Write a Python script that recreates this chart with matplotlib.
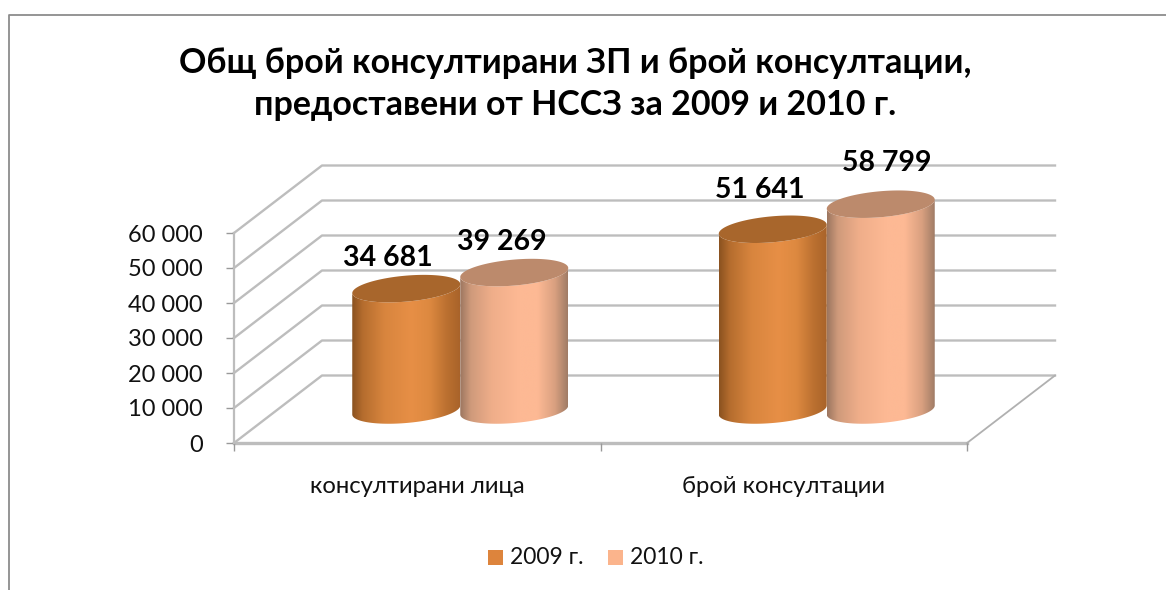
import numpy as np
import matplotlib
matplotlib.use("Agg")
import matplotlib.pyplot as plt
from matplotlib.colors import LinearSegmentedColormap
from matplotlib.lines import Line2D
from matplotlib.patches import Polygon, Rectangle

plt.rcParams['font.family'] = ['Lato', 'Open Sans', 'DejaVu Sans']

# данни
title = "Общ брой консултирани ЗП и брой консултации,\nпредоставени от НССЗ за 2009 и 2010 г."
categories = ["консултирани лица", "брой консултации"]
series_names = ["2009 г.", "2010 г."]
values_2009 = [34681, 51641]
values_2010 = [39269, 58799]
y_ticks = [0, 10000, 20000, 30000, 40000, 50000, 60000]

W, H = 1166, 590
PX_X = 2 / 733      # category units per pixel
PX_Y = 60000 / 210  # value units per pixel
DEPTH_X = 88 * PX_X
DEPTH_Y = 67.5 * PX_Y
GRID = '#bdbdbd'


def fmt(v):
    return f"{v:,}".replace(",", " ")


fig = plt.figure(figsize=(W / 100, H / 100), dpi=100, facecolor='white')
ax = fig.add_axes([234 / W, (H - 443) / H, 733 / W, 210 / H])
ax.patch.set_visible(False)
ax.set_xlim(0, 2)
ax.set_ylim(0, 60000)

# оси
for name in ['top', 'right', 'bottom']:
    ax.spines[name].set_visible(False)
ax.spines['left'].set_color(GRID)
ax.spines['left'].set_linewidth(1.6)
ax.set_yticks(y_ticks, [fmt(t) for t in y_ticks], fontsize=17, color='#111111')
ax.tick_params(axis='y', length=5.5, width=1, color='#999999', pad=17)
ax.set_xticks([0, 1, 2], ['', '', ''])
ax.tick_params(axis='x', length=5.5, width=1, color='#999999')
ax.set_xticks([0.5, 1.5], categories, minor=True, fontsize=17.2, color='#111111')
ax.tick_params(axis='x', which='minor', length=0, pad=24)

# стени и под
for t in y_ticks:
    ax.plot([0, DEPTH_X, 2 + DEPTH_X], [t, t + DEPTH_Y, t + DEPTH_Y],
            color=GRID, lw=1.7, clip_on=False, zorder=1)
ax.plot([0, 2], [0, 0], color=GRID, lw=2.4, clip_on=False, zorder=1)
ax.plot([2, 2 + DEPTH_X], [0, DEPTH_Y], color='#b0b0b0', lw=1.3, clip_on=False, zorder=1)

# цилиндри
stop_pos = [0, 0.1, 0.3, 0.55, 0.72, 0.88, 1]
series_styles = [
    (['#8a5220', '#b56d2e', '#d8853e', '#e78f46', '#dd8940', '#bb7030', '#a9632a'], '#a8662c', '#dd843c', -0.5),
    (['#9c7660', '#cf9a7b', '#f0ae8a', '#fdb994', '#fdb994', '#d9a080', '#a07c66'], '#bc8a6c', '#fbb48c', 0.5),
]
BAR_W = 108 * PX_X
BASE = 33 * PX_Y
CENTER_SHIFT = 43 * PX_X
ELL_B = 13 * PX_Y
ELL_TILT = 4.5 * PX_Y
label_dx = [[-18, -13], [-12, 6]]
label_dy = [[31, 39], [31, 41]]
theta = np.linspace(0, 2 * np.pi, 121)


def ellipse(cx, cy, t):
    return cx + BAR_W / 2 * np.cos(t), cy + ELL_B * np.sin(t) + ELL_TILT * np.cos(t)


z = 2
for s, vals in enumerate([values_2009, values_2010]):
    stops, top_col, _, side = series_styles[s]
    cmap = LinearSegmentedColormap.from_list('cyl', list(zip(stop_pos, stops)))
    for c, v in enumerate(vals):
        cx = c + 0.5 + CENTER_SHIFT + side * BAR_W
        top = BASE + v
        # бок: долна дъга + горна дъга
        t_low = np.linspace(np.pi, 2 * np.pi, 60)
        t_up = np.linspace(2 * np.pi, np.pi, 60)
        xb, yb = ellipse(cx, BASE, t_low)
        xt, yt = ellipse(cx, top, t_up)
        body = Polygon(np.column_stack([np.r_[xb, xt], np.r_[yb, yt]]), closed=True,
                       transform=ax.transData, fc='none', ec='none', zorder=z)
        ax.add_patch(body)
        body.set_clip_on(False)
        im = ax.imshow(np.linspace(0, 1, 256)[None, :], cmap=cmap, vmin=0, vmax=1, aspect='auto',
                       extent=[cx - BAR_W / 2, cx + BAR_W / 2, BASE - 3 * ELL_B, top + 3 * ELL_B],
                       interpolation='bilinear', zorder=z)
        im.set_clip_path(body)
        im.set_clip_box(fig.bbox)
        xe, ye = ellipse(cx, top, theta)
        ax.fill(xe, ye, color=top_col, lw=0, clip_on=False, zorder=z + 0.1)
        ax.text(cx + label_dx[s][c] * PX_X, top + label_dy[s][c] * PX_Y, fmt(v), fontsize=20.5,
                fontweight='bold', ha='center', va='center', color='black', zorder=20, clip_on=False)
    z += 1
ax.set_xlim(0, 2)
ax.set_ylim(0, 60000)

# заглавие
fig.text(575 / W, 1 - 84 / H, title, fontsize=24.5, fontweight='bold', ha='center', va='center',
         linespacing=1.42, color='black')

# легенда
for x0, txt, col in [(488, series_names[0], series_styles[0][2]), (608, series_names[1], series_styles[1][2])]:
    fig.add_artist(Rectangle((x0 / W, 1 - 565 / H), 15 / W, 15 / H, transform=fig.transFigure,
                             fc=col, ec='none'))
    fig.text((x0 + 22) / W, 1 - 558 / H, txt, fontsize=16.5, ha='left', va='center', color='#111111')

# рамка
fig.add_artist(Line2D([8.5 / W, 8.5 / W, 1], [0, 1 - 14.5 / H, 1 - 14.5 / H],
                      transform=fig.transFigure, color='#8c8c8c', lw=1.3))

fig.savefig('out.png', dpi=100)
